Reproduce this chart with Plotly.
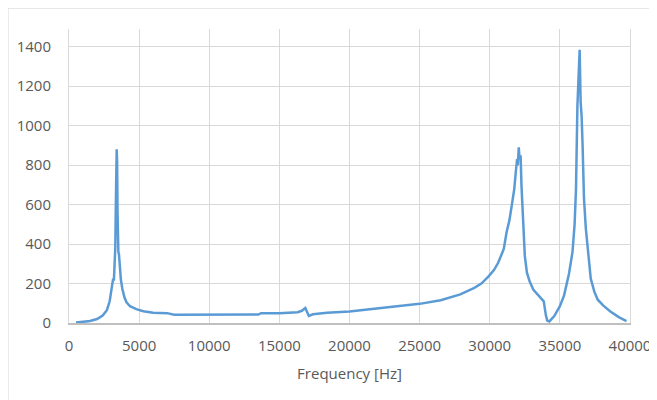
import plotly.graph_objects as go

freq_hz = [500, 1000, 1500, 2000, 2400, 2700, 2900, 3050, 3150, 3200, 3250, 3300, 3340, 3370, 3400,
           3430, 3460, 3490, 3520, 3560, 3620, 3700, 3800, 3950, 4100, 4350, 4800, 5300, 6000,
           7000, 7500, 9000, 11000, 13500, 13700, 15000, 16300, 16600, 16850, 17000, 17100,
           17400, 18400, 20000, 21700, 23600, 25000, 26500, 27900, 28900, 29400, 29900, 30300,
           30600, 30800, 31000, 31200, 31400, 31600, 31750, 31850, 31950, 32000, 32070, 32130,
           32200, 32260, 32320, 32400, 32500, 32650, 32850, 33100, 33350, 33600, 33850, 34000,
           34100, 34250, 34600, 35000, 35300, 35650, 35900, 36050, 36150, 36250, 36350, 36410,
           36480, 36550, 36620, 36720, 36850, 36980, 37200, 37450, 37700, 38100, 38600, 39200,
           39750]
amplitude = [2, 5, 10, 20, 38, 65, 110, 180, 225, 215, 330, 380, 600, 700, 880,
             820, 560, 380, 360, 350, 290, 220, 175, 130, 105, 85, 70, 60, 52,
             50, 42, 42, 42, 43, 50, 50, 55, 62, 76, 50, 36,
             44, 52, 58, 70, 84, 97, 115, 145, 178, 200, 235, 268,
             305, 338, 375, 460, 520, 610, 680, 760, 830, 800, 890, 830,
             850, 700, 600, 430, 340, 255, 210, 170, 150, 130, 110, 40,
             12, 8, 35, 85, 140, 250, 360, 500, 680, 1100, 1250, 1385,
             1120, 1050, 900, 630, 480, 380, 225, 160, 118, 88, 58, 30,
             10]

x_ticks = [0, 5000, 10000, 15000, 20000, 25000, 30000, 35000, 40000]
y_ticks = [0, 200, 400, 600, 800, 1000, 1200, 1400]

FONT = "Open Sans"
TXT = "#595959"
GRID = "#D9D9D9"

fig = go.Figure()
fig.add_trace(go.Scatter(x=freq_hz, y=amplitude, mode="lines",
                         line=dict(color="#5B9BD5", width=2.5), showlegend=False))

fig.update_layout(
    width=657, height=400,
    margin=dict(l=61, r=35, t=21, b=85, autoexpand=False),
    paper_bgcolor="white", plot_bgcolor="white",
    font=dict(family=FONT, size=15, color=TXT),
    xaxis=dict(range=[0, 40000], tickvals=x_ticks, ticktext=[str(v) for v in x_ticks],
               showgrid=True, gridcolor=GRID, gridwidth=1, zeroline=False,
               showline=True, linecolor="#BFBFBF", linewidth=1.5, automargin=False,
               ticks="", ticklabelstandoff=8,
               title=dict(text="Frequency [Hz]", standoff=15,
                          font=dict(family=FONT, size=15, color=TXT))),
    yaxis=dict(range=[0, 1490], tickvals=y_ticks, ticktext=[str(v) for v in y_ticks],
               showgrid=True, gridcolor=GRID, gridwidth=1, zeroline=False,
               showline=True, mirror=True, linecolor=GRID, linewidth=1, automargin=False,
               ticks="", ticklabelstandoff=14),
    shapes=[dict(type="rect", xref="paper", yref="paper",
                 x0=-0.1087, x1=1.3, y0=-0.6, y1=1.071,
                 line=dict(color=GRID, width=1), fillcolor="rgba(0,0,0,0)", layer="below")],
)

fig.write_html("out.html")
